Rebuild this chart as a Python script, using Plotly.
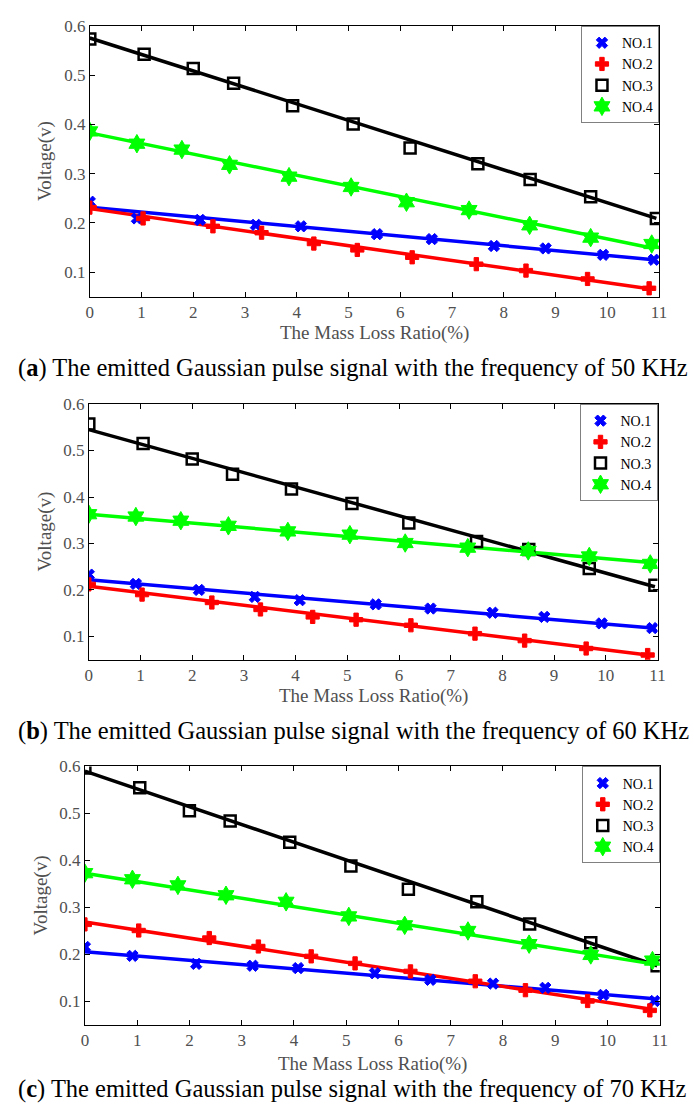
import plotly.graph_objects as go

# ---------------- data ----------------
x_no1 = [0.0, 0.91, 2.13, 3.21, 4.08, 5.55, 6.61, 7.81, 8.81, 9.92, 10.90]
x_no2 = [0.0, 1.03, 2.38, 3.32, 4.33, 5.17, 6.23, 7.47, 8.43, 9.62, 10.81]
x_no3 = [0.0, 1.05, 2.00, 2.78, 3.92, 5.09, 6.19, 7.50, 8.51, 9.68, 10.95]
x_no4 = [0.0, 0.91, 1.78, 2.70, 3.85, 5.05, 6.12, 7.33, 8.50, 9.68, 10.86]

# panel (a) 50 KHz
a_no1 = [0.243, 0.209, 0.206, 0.196, 0.193, 0.177, 0.167, 0.153, 0.148, 0.135, 0.125]
a_no2 = [0.231, 0.209, 0.193, 0.180, 0.158, 0.145, 0.130, 0.116, 0.103, 0.086, 0.067]
a_no3 = [0.574, 0.543, 0.514, 0.484, 0.438, 0.401, 0.352, 0.320, 0.288, 0.253, 0.209]
a_no4 = [0.386, 0.361, 0.349, 0.318, 0.294, 0.273, 0.242, 0.226, 0.195, 0.170, 0.157]
a_fit = {"NO.1": [0.232, 0.125], "NO.2": [0.229, 0.066], "NO.3": [0.576, 0.209], "NO.4": [0.383, 0.149]}

# panel (b) 60 KHz
b_no1 = [0.233, 0.213, 0.200, 0.185, 0.178, 0.169, 0.160, 0.151, 0.142, 0.128, 0.118]
b_no2 = [0.212, 0.190, 0.173, 0.158, 0.142, 0.136, 0.124, 0.106, 0.091, 0.074, 0.060]
b_no3 = [0.557, 0.515, 0.482, 0.449, 0.417, 0.386, 0.344, 0.304, 0.287, 0.246, 0.210]
b_no4 = [0.363, 0.358, 0.349, 0.338, 0.326, 0.319, 0.301, 0.291, 0.284, 0.272, 0.256]
b_fit = {"NO.1": [0.222, 0.118], "NO.2": [0.208, 0.060], "NO.3": [0.545, 0.207], "NO.4": [0.363, 0.259]}

# panel (c) 70 KHz
c_no1 = [0.216, 0.197, 0.180, 0.176, 0.171, 0.160, 0.146, 0.138, 0.129, 0.114, 0.101]
c_no2 = [0.264, 0.251, 0.235, 0.217, 0.196, 0.181, 0.164, 0.143, 0.124, 0.101, 0.081]
c_no3 = [0.597, 0.555, 0.506, 0.484, 0.439, 0.388, 0.339, 0.312, 0.265, 0.225, 0.176]
c_no4 = [0.373, 0.360, 0.347, 0.326, 0.312, 0.281, 0.262, 0.250, 0.222, 0.199, 0.187]
c_fit = {"NO.1": [0.206, 0.106], "NO.2": [0.269, 0.084], "NO.3": [0.590, 0.176], "NO.4": [0.373, 0.180]}

x_ticks = list(range(0, 12))
y_ticks = [0.1, 0.2, 0.3, 0.4, 0.5, 0.6]
x_title = "The Mass Loss Ratio(%)"
y_title = "Voltage(v)"
captions = [
    "(<b>a</b>) The emitted Gaussian pulse signal with the frequency of 50 KHz",
    "(<b>b</b>) The emitted Gaussian pulse signal with the frequency of 60 KHz",
    "(<b>c</b>) The emitted Gaussian pulse signal with the frequency of 70 KHz",
]
names = ["NO.1", "NO.2", "NO.3", "NO.4"]

# ---------------- style ----------------
W, H = 694, 1106
colors = {"NO.1": "#0000ff", "NO.2": "#ff0000", "NO.3": "#000000", "NO.4": "#00ff00"}
symbols = {"NO.1": "x", "NO.2": "cross", "NO.3": "square-open", "NO.4": "hexagram"}
msize = {"NO.1": 10, "NO.2": 11, "NO.3": 11, "NO.4": 14}
xs = {"NO.1": x_no1, "NO.2": x_no2, "NO.3": x_no3, "NO.4": x_no4}
serif = "Liberation Serif, Times New Roman, serif"
gray = "#505050"

# panel pixel boxes: (left, right, top, bottom)
boxes = [(87.3, 666.5, 17.3, 290.0), (86.3, 665.0, 398.3, 656.0), (82.3, 667.3, 763.7, 1024.3)]
title_y = [327, 693, 1064]
caption_y = [362, 728, 1089]
panels = [
    ({"NO.1": a_no1, "NO.2": a_no2, "NO.3": a_no3, "NO.4": a_no4}, a_fit),
    ({"NO.1": b_no1, "NO.2": b_no2, "NO.3": b_no3, "NO.4": b_no4}, b_fit),
    ({"NO.1": c_no1, "NO.2": c_no2, "NO.3": c_no3, "NO.4": c_no4}, c_fit),
]

fig = go.Figure()
annotations = []
layout = {}
for i, ((vals, fits), box) in enumerate(zip(panels, boxes)):
    sfx = "" if i == 0 else str(i + 1)
    xa, ya = "x" + sfx, "y" + sfx
    lg = "legend" + sfx
    for n in names:
        x = xs[n]
        fig.add_trace(go.Scatter(
            x=[x[0], x[-1]], y=fits[n], mode="lines", xaxis=xa, yaxis=ya,
            line=dict(color=colors[n], width=3.5), showlegend=False, hoverinfo="skip"))
    for n in names:
        mline = dict(width=2.5, color=colors[n]) if n == "NO.3" else dict(width=1, color=colors[n])
        fig.add_trace(go.Scatter(
            x=xs[n], y=vals[n], mode="markers", name=n, xaxis=xa, yaxis=ya, legend=lg,
            marker=dict(symbol=symbols[n], size=msize[n], color=colors[n], line=mline)))
    L, R, T, B = box
    dom_x = [L / W, R / W]
    dom_y = [1 - B / H, 1 - T / H]
    axcommon = dict(showline=True, linecolor="black", linewidth=1, mirror="ticks",
                    ticks="inside", ticklen=5, tickcolor="black", showgrid=False, zeroline=False,
                    tickfont=dict(family=serif, size=17, color=gray))
    layout["xaxis" + sfx] = dict(axcommon, domain=dom_x, range=[0, 11], tickvals=x_ticks,
                                 anchor=ya)
    layout["yaxis" + sfx] = dict(axcommon, domain=dom_y, range=[0.05, 0.6], tickvals=y_ticks,
                                 tickformat=".1f", anchor=xa)
    layout[lg] = dict(x=dom_x[1], y=dom_y[1], xanchor="right", yanchor="top",
                      bgcolor="white", bordercolor="#808080", borderwidth=1,
                      font=dict(family=serif, size=14, color="black"),
                      tracegroupgap=0, itemwidth=30)
    # axis titles and caption
    annotations.append(dict(text=x_title, x=(L + R) / 2 / W, y=1 - title_y[i] / H,
                            xref="paper", yref="paper", showarrow=False,
                            xanchor="center", yanchor="middle",
                            font=dict(family=serif, size=19, color=gray)))
    annotations.append(dict(text=y_title, x=(L - 45) / W, y=1 - (T + B) / 2 / H,
                            xref="paper", yref="paper", showarrow=False, textangle=-90,
                            xanchor="center", yanchor="middle",
                            font=dict(family=serif, size=19, color=gray)))
    annotations.append(dict(text=captions[i], x=12 / W, y=1 - caption_y[i] / H,
                            xref="paper", yref="paper", showarrow=False,
                            xanchor="left", yanchor="middle",
                            font=dict(family=serif, size=24.5, color="black")))

fig.update_layout(width=W, height=H, margin=dict(l=0, r=0, t=0, b=0),
                  paper_bgcolor="white", plot_bgcolor="white",
                  annotations=annotations, **layout)
fig.write_html("out.html")
